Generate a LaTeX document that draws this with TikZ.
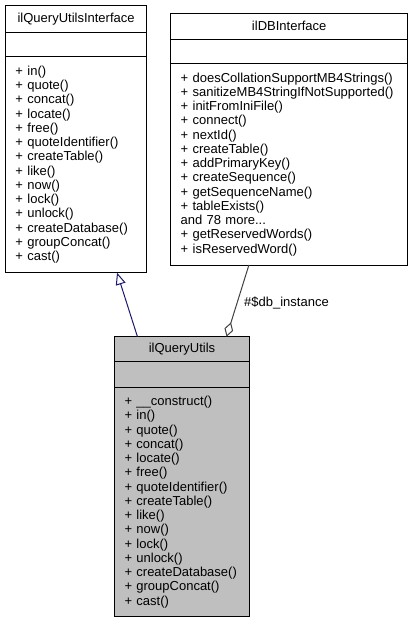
\documentclass[tikz,border=0pt]{standalone}
\usepackage{fontspec}
\setmainfont{Liberation Sans}
\usetikzlibrary{arrows.meta, positioning, calc}
\definecolor{edgeNavy}{RGB}{25,25,112}
\definecolor{edgeGray}{RGB}{64,64,64}
\definecolor{hiGray}{RGB}{191,191,191}

\begin{document}
\begin{tikzpicture}[
    x=1pt, y=-1pt,
    every node/.style={font=\fontsize{13}{14.25}\selectfont},
    cname/.style ={rectangle, draw=black, line width=1pt, outer sep=0pt, inner sep=0pt, minimum width=#1},
    cattr/.style ={rectangle, draw=black, line width=1pt, outer sep=0pt, inner sep=0pt, minimum width=#1},
    cops/.style  ={rectangle, draw=black, line width=1pt, outer sep=0pt, inner xsep=10pt, inner ysep=0pt, align=left, minimum width=#1},
    hilite/.style={fill=hiGray},
    inherit/.style={-{Triangle[open, length=12pt, width=10pt]}, line width=1pt, draw=edgeNavy},
    aggr/.style  ={-{Diamond[open, length=15pt, width=9pt]}, line width=1pt, draw=edgeGray}
]
\useasboundingbox (0,0) rectangle (413,624);
% ilQueryUtilsInterface
\node[cname=141.2pt, minimum height=26.6pt, anchor=north west] (qi-name) at (5.5,5.7) {ilQueryUtilsInterface};
\node[cattr=141.2pt, minimum height=24.4pt, below=0pt of qi-name] (qi-attr) {};
\node[cops=141.2pt, text width=121.2pt, minimum height=216pt, below=0pt of qi-attr] (qi-ops)
 {+ in()\\+ quote()\\+ concat()\\+ locate()\\+ free()\\+ quoteIdentifier()\\+ createTable()\\+ like()\\+ now()\\+ lock()\\+ unlock()\\+ createDatabase()\\+ groupConcat()\\+ cast()};
% ilDBInterface
\node[cname=237pt, minimum height=25.7pt, anchor=north west] (db-name) at (170.7,13.3) {ilDBInterface};
\node[cattr=237pt, minimum height=24.3pt, below=0pt of db-name] (db-attr) {};
\node[cops=237pt, text width=217pt, minimum height=201.7pt, below=0pt of db-attr] (db-ops)
 {+ doesCollationSupportMB4Strings()\\+ sanitizeMB4StringIfNotSupported()\\+ initFromIniFile()\\+ connect()\\+ nextId()\\+ createTable()\\+ addPrimaryKey()\\+ createSequence()\\+ getSequenceName()\\+ tableExists()\\and 78 more...\\+ getReservedWords()\\+ isReservedWord()};
% ilQueryUtils
\node[cname=135pt, hilite, minimum height=24.3pt, anchor=north west] (qu-name) at (114.5,336.7) {ilQueryUtils};
\node[cattr=135pt, hilite, minimum height=26.3pt, below=0pt of qu-name] (qu-attr) {};
\node[cops=135pt, hilite, text width=115pt, minimum height=229.3pt, below=0pt of qu-attr] (qu-ops)
 {+ \_\_construct()\\+ in()\\+ quote()\\+ concat()\\+ locate()\\+ free()\\+ quoteIdentifier()\\+ createTable()\\+ like()\\+ now()\\+ lock()\\+ unlock()\\+ createDatabase()\\+ groupConcat()\\+ cast()};
% relations
\draw[inherit] ($(qu-name.north west)!0.17!(qu-name.north east)$) -- ($(qi-ops.south west)!0.79!(qi-ops.south east)$);
\draw[aggr] ($(db-ops.south west)!0.33!(db-ops.south east)$) -- ($(qu-name.north west)!0.83!(qu-name.north east)$);
\node[anchor=west, inner sep=0pt] (db-label) at (244,303.3) {\#\$db\_instance};
\end{tikzpicture}
\end{document}
